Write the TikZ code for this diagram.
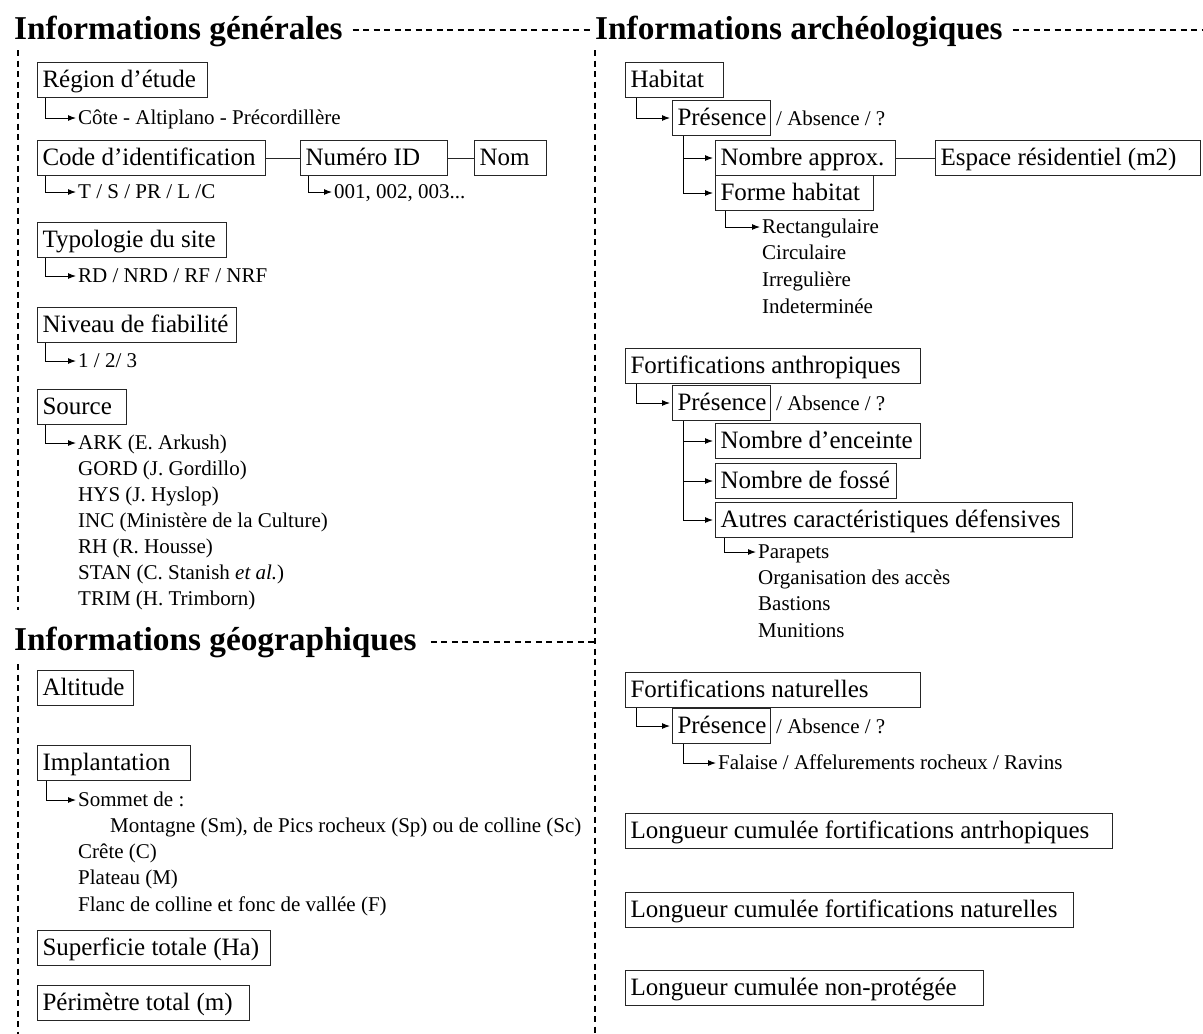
\documentclass[tikz,border=0pt]{standalone}
\usepackage{fontspec}
\setmainfont{Liberation Serif}
\usetikzlibrary{arrows.meta}
\begin{document}
\begin{tikzpicture}[x=1pt,y=-1pt,
 box/.style={draw=black!85, line width=1pt, anchor=north west, inner xsep=5pt, inner ysep=5.5pt,
   text height=19pt, text depth=5pt, font=\fontsize{25}{25}\selectfont,
   execute at begin node={\hbox to #1\bgroup}, execute at end node={\hfil\egroup}},
 lbl/.style={anchor=west, inner sep=0pt, text height=13pt, text depth=0pt, font=\fontsize{21}{21}\selectfont},
 sml/.style={anchor=base west, inner sep=0pt, font=\fontsize{21}{21}\selectfont},
 ttl/.style={anchor=base west, inner sep=0pt, font=\fontsize{33.3}{33.3}\selectfont\bfseries},
 sep/.style={line width=1.3pt, dash pattern=on 6pt off 4.5pt},
 arr/.style={line width=1pt, -{Latex[length=8pt,width=6pt]}, shorten >=2pt},
 lnk/.style={line width=1pt, draw=black!85}]

\useasboundingbox (0,0) rectangle (1203,1034);

% ---------- titles and separators ----------
\node[ttl] (t1) at (14,39) {Informations générales};
\node[ttl] (t2) at (595,39) {Informations archéologiques};
\node[ttl] (t3) at (14,650) {Informations géographiques};
\coordinate (m1) at (590,30);
\coordinate (r1) at (1203,30);
\coordinate (m3) at (595,642);
\coordinate (l0) at (18,50);
\coordinate (l1) at (18,610);
\coordinate (l2) at (18,664);
\coordinate (l3) at (18,1034);
\coordinate (c0) at (595,50);
\coordinate (c1) at (595,1034);
\draw[sep] ([xshift=10pt]t1.base east |- m1) -- (m1);
\draw[sep] ([xshift=10pt]t2.base east |- r1) -- (r1);
\draw[sep] ([xshift=14pt]t3.base east |- m3) -- (m3);
\draw[sep] (l0) -- (l1);
\draw[sep] (l2) -- (l3);
\draw[sep] (c0) -- (c1);

% ---------- Informations generales ----------
\node[box=160pt] (reg) at (37,62) {Région d’étude};
\node[lbl] (cote) at (78,118) {Côte - Altiplano - Précordillère};
\draw[arr] ([xshift=8pt]reg.south west) |- (cote.west);

\node[box=218pt] (code) at (37,140) {Code d’identification};
\node[box=137pt] (num) at (300,140) {Numéro ID};
\node[box=62pt] (nom) at (474,140) {Nom};
\draw[lnk] (code) -- (num);
\draw[lnk] (num) -- (nom);
\node[lbl] (tsp) at (78,192) {T / S / PR / L /C};
\draw[arr] ([xshift=8pt]code.south west) |- (tsp.west);
\node[lbl] (ids) at (334,192) {001, 002, 003...};
\draw[arr] ([xshift=8pt]num.south west) |- (ids.west);

\node[box=179pt] (typ) at (37,222) {Typologie du site};
\node[lbl] (rd) at (78,276) {RD / NRD / RF / NRF};
\draw[arr] ([xshift=8pt]typ.south west) |- (rd.west);

\node[box=189pt] (niv) at (37,307) {Niveau de fiabilité};
\node[lbl] (nums) at (78,361) {1 / 2/ 3};
\draw[arr] ([xshift=8pt]niv.south west) |- (nums.west);

\node[box=79pt] (src) at (37,389) {Source};
\node[lbl] (s1) at (78,443) {ARK (E. Arkush)};
\node[lbl] (s2) at (78,469) {GORD (J. Gordillo)};
\node[lbl] (s3) at (78,495) {HYS (J. Hyslop)};
\node[lbl] (s4) at (78,521) {INC (Ministère de la Culture)};
\node[lbl] (s5) at (78,547) {RH (R. Housse)};
\node[lbl] (s6) at (78,573) {STAN (C. Stanish \textit{et al.})};
\node[lbl] (s7) at (78,599) {TRIM (H. Trimborn)};
\draw[arr] ([xshift=8pt]src.south west) |- (s1.west);

% ---------- Informations geographiques ----------
\node[box=86pt] (alt) at (37,670) {Altitude};
\node[box=143pt] (imp) at (37,745) {Implantation};
\node[lbl] (g1) at (78,800) {Sommet de :};
\node[lbl] (g2) at (110,826) {Montagne (Sm), de Pics rocheux (Sp) ou de colline (Sc)};
\node[lbl] (g3) at (78,852) {Crête (C)};
\node[lbl] (g4) at (78,878) {Plateau (M)};
\node[lbl] (g5) at (78,905) {Flanc de colline et fonc de vallée (F)};
\draw[arr] ([xshift=9pt]imp.south west) |- (g1.west);
\node[box=223pt] (sup) at (37,930) {Superficie totale (Ha)};
\node[box=202pt] (per) at (37,985) {Périmètre total (m)};

% ---------- Informations archeologiques ----------
\node[box=88pt] (hab) at (625,62) {Habitat};
\node[box=88pt] (pr1) at (672,100) {Présence};
\node[sml] (ab1) at ([xshift=5pt]pr1.base east) {/ Absence / ?};
\draw[arr] ([xshift=11pt]hab.south west) |- (pr1.west);
\node[box=170pt] (napp) at (715,140) {Nombre approx.};
\node[box=255pt] (esp) at (935,140) {Espace résidentiel (m2)};
\draw[lnk] (napp) -- (esp);
\node[box=148pt] (forme) at (715,175) {Forme habitat};
\draw[arr] ([xshift=11pt]pr1.south west) |- (napp.west);
\draw[arr] ([xshift=11pt]pr1.south west) |- (forme.west);
\node[lbl] (f1) at (762,227) {Rectangulaire};
\node[lbl] (f2) at (762,253) {Circulaire};
\node[lbl] (f3) at (762,280) {Irregulière};
\node[lbl] (f4) at (762,307) {Indeterminée};
\draw[arr] ([xshift=10pt]forme.south west) |- (f1.west);

\node[box=285pt] (fa) at (625,348) {Fortifications anthropiques};
\node[box=88pt] (pr2) at (672,385) {Présence};
\node[sml] (ab2) at ([xshift=5pt]pr2.base east) {/ Absence / ?};
\draw[arr] ([xshift=11pt]fa.south west) |- (pr2.west);
\node[box=195pt] (nenc) at (715,423) {Nombre d’enceinte};
\node[box=171pt] (nfos) at (715,463) {Nombre de fossé};
\node[box=347pt] (autr) at (715,502) {Autres caractéristiques défensives};
\draw[arr] ([xshift=11pt]pr2.south west) |- (nenc.west);
\draw[arr] ([xshift=11pt]pr2.south west) |- (nfos.west);
\draw[arr] ([xshift=11pt]pr2.south west) |- (autr.west);
\node[lbl] (d1) at (758,552) {Parapets};
\node[lbl] (d2) at (758,578) {Organisation des accès};
\node[lbl] (d3) at (758,604) {Bastions};
\node[lbl] (d4) at (758,631) {Munitions};
\draw[arr] ([xshift=9pt]autr.south west) |- (d1.west);

\node[box=285pt] (fn) at (625,672) {Fortifications naturelles};
\node[box=88pt] (pr3) at (672,708) {Présence};
\node[sml] (ab3) at ([xshift=5pt]pr3.base east) {/ Absence / ?};
\draw[arr] ([xshift=11pt]fn.south west) |- (pr3.west);
\node[lbl] (fal) at (718,763) {Falaise / Affelurements rocheux / Ravins};
\draw[arr] ([xshift=11pt]pr3.south west) |- (fal.west);

\node[box=477pt] (lc1) at (625,813) {Longueur cumulée fortifications antrhopiques};
\node[box=438pt] (lc2) at (625,892) {Longueur cumulée fortifications naturelles};
\node[box=348pt] (lc3) at (625,970) {Longueur cumulée non-protégée};
\end{tikzpicture}
\end{document}
